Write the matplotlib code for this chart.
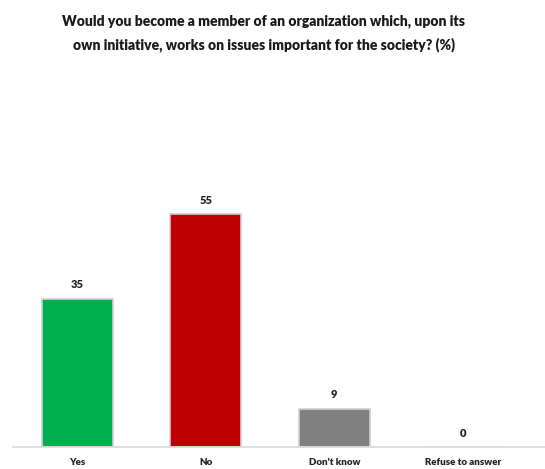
import matplotlib
matplotlib.use("Agg")
import matplotlib.pyplot as plt

categories = ["Yes", "No", "Don't know", "Refuse to answer"]
values = [35, 55, 9, 0]
colors = ["#00B050", "#C00000", "#808080", "#BFBFBF"]
title = ("Would you become a member of an organization which, upon its\n"
         "own initiative, works on issues important for the society? (%)")

plt.rcParams["font.family"] = ["Lato", "DejaVu Sans"]

fig = plt.figure(figsize=(5.45, 4.69), dpi=100)
ax = fig.add_axes([13 / 545, (469 - 447) / 469, (545 - 13) / 545, (447 - 193) / 469])

x = range(len(categories))
bars = ax.bar(x, values, width=0.55, color=colors, edgecolor="#CFCFCF", linewidth=1.2, zorder=2)
for b, v in zip(bars, values):
    ax.text(b.get_x() + b.get_width() / 2, v + 2.0, f"{v}", ha="center", va="bottom",
            fontsize=8, fontweight="heavy", color="#222222")

ax.set_xlim(-0.5, 3.64)
ax.set_ylim(0, 60)
ax.set_xticks(list(x))
ax.set_xticklabels(categories, fontsize=7, fontweight="heavy", color="#222222")
ax.tick_params(axis="x", length=0, pad=8)
ax.set_yticks([])
for s in ["top", "right", "left"]:
    ax.spines[s].set_visible(False)
ax.spines["bottom"].set_color("#D9D9D9")
ax.spines["bottom"].set_linewidth(1.2)

fig.text(264 / 545, 1 - 33 / 469, title, ha="center", va="center", fontsize=10,
         fontweight="heavy", color="#1a1a1a", linespacing=1.8)

fig.savefig("out.png", dpi=100)
